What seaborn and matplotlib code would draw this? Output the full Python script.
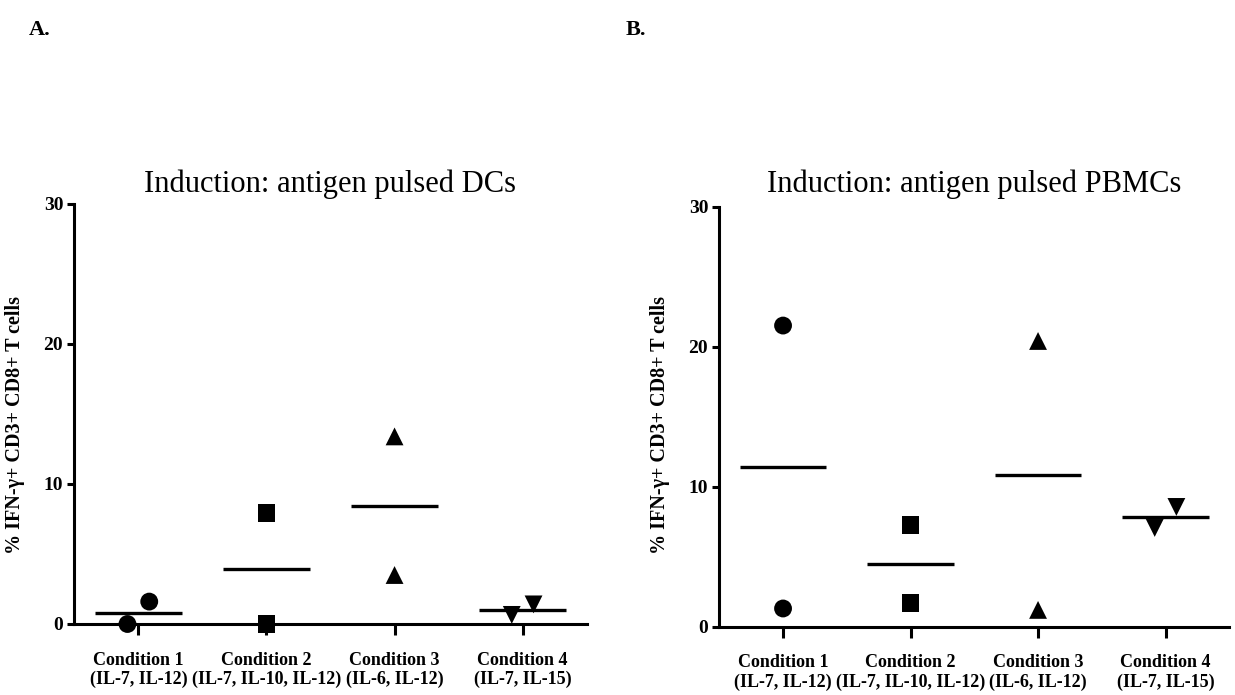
import numpy as np
import pandas as pd
import matplotlib
matplotlib.use("Agg")
import matplotlib.pyplot as plt
import seaborn as sns

# ---- data -------------------------------------------------------------
conditions = ["Condition 1", "Condition 2", "Condition 3", "Condition 4"]
cytokines = ["(IL-7, IL-12)", "(IL-7, IL-10, IL-12)", "(IL-6, IL-12)", "(IL-7, IL-15)"]

# % IFN-gamma+ CD3+ CD8+ T cells, two donors per condition
dcs_values = [[0.0, 1.6], [0.0, 7.9], [13.4, 3.5], [0.65, 1.4]]
pbmc_values = [[21.5, 1.3], [7.25, 1.7], [20.4, 1.2], [7.05, 8.55]]

panel_titles = ["Induction: antigen pulsed DCs", "Induction: antigen pulsed PBMCs"]
panel_letters = ["A.", "B."]
y_label = "% IFN-\u03b3+ CD3+ CD8+ T cells"
y_ticks = [0, 10, 20, 30]

# ---- layout / style ----------------------------------------------------
# horizontal spread of close points within one column (dot-plot style)
spreads = [
    [[-0.085, 0.085], [0.0, 0.0], [0.0, 0.0], [-0.085, 0.085]],
    [[0.0, 0.0], [0.0, 0.0], [0.0, 0.0], [-0.085, 0.085]],
]
markers = {"Condition 1": "o", "Condition 2": "s", "Condition 3": "^", "Condition 4": "v"}
mean_half_width = 0.34

sns.set_theme(style="white")
plt.rcParams["font.family"] = ["Liberation Serif", "DejaVu Serif"]
plt.rcParams["text.color"] = "black"
plt.rcParams["axes.labelcolor"] = "black"
plt.rcParams["xtick.color"] = "black"
plt.rcParams["ytick.color"] = "black"

W, H = 1235, 695
fig = plt.figure(figsize=(W / 100, H / 100), dpi=100)

# axes boxes in pixels: left, top, right, bottom
boxes = [(74.3, 204.0, 586.7, 624.0), (719.3, 206.5, 1229.3, 626.7)]


def frac_box(b):
    l, t, r, btm = b
    return [l / W, 1 - btm / H, (r - l) / W, (btm - t) / H]


def draw_panel(ax, values, spread):
    rows = []
    for i, (cond, vals) in enumerate(zip(conditions, values)):
        for v, dx in zip(vals, spread[i]):
            rows.append({"condition": cond, "pos": i + dx, "value": v})
    df = pd.DataFrame(rows)

    sns.scatterplot(data=df, x="pos", y="value", style="condition",
                    markers=markers, color="black", s=165, edgecolor="black",
                    linewidth=0, legend=False, ax=ax, clip_on=False, zorder=4)

    means = df.groupby("condition", sort=False)["value"].mean().reindex(conditions)
    pos = np.arange(len(conditions))
    ax.hlines(means.values, pos - mean_half_width, pos + mean_half_width,
              color="black", linewidth=2.4, zorder=3)

    ax.set_xlim(-0.5, 3.5)
    ax.set_ylim(0, 30)
    ax.set_yticks(y_ticks)
    ax.set_yticklabels([str(t) for t in y_ticks], fontsize=14, fontweight="bold")
    ax.set_xticks(pos)
    ax.set_xticklabels([f"{c}\n{k}" for c, k in zip(conditions, cytokines)],
                       fontsize=13, fontweight="bold", linespacing=1.15)
    ax.set_xlabel("")
    ax.set_ylabel("")
    for side in ("top", "right"):
        ax.spines[side].set_visible(False)
    for side in ("left", "bottom"):
        ax.spines[side].set_linewidth(2.2)
        ax.spines[side].set_color("black")
        ax.spines[side].set_zorder(2)
    ax.tick_params(axis="y", which="major", direction="out", length=5, width=2.2,
                   pad=3, left=True)
    ax.tick_params(axis="x", which="major", direction="out", length=8, width=2.2,
                   pad=12, bottom=True)


for k, (box, vals) in enumerate(zip(boxes, [dcs_values, pbmc_values])):
    ax = fig.add_axes(frac_box(box))
    draw_panel(ax, vals, spreads[k])
    l, t, r, b = box
    fig.text(((l + r) / 2) / W, 1 - 184 / H, panel_titles[k], ha="center",
             va="center", fontsize=22)
    fig.text((l - 59) / W, 1 - 425 / H, y_label, rotation=90, ha="center",
             va="center", fontsize=14.5, fontweight="bold")

fig.text(40 / W, 1 - 30 / H, panel_letters[0], ha="center", va="center",
         fontsize=16, fontweight="bold")
fig.text(636 / W, 1 - 30 / H, panel_letters[1], ha="center", va="center",
         fontsize=16, fontweight="bold")

fig.savefig("out.png", dpi=100, facecolor="white")
